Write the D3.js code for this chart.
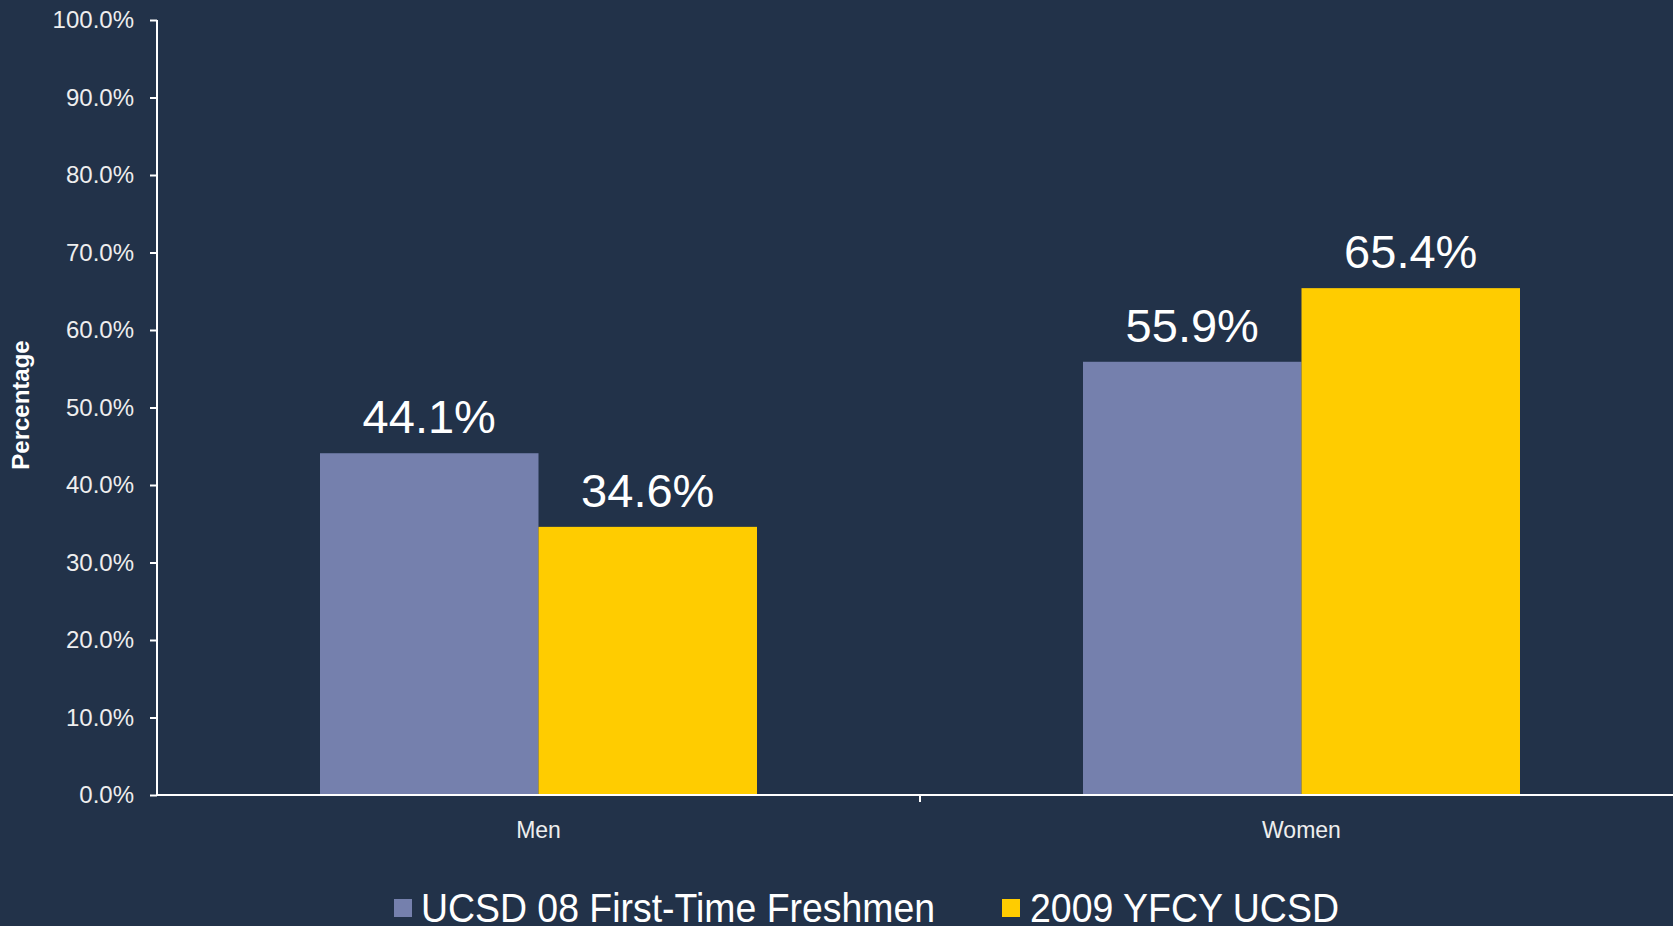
<!DOCTYPE html>
<html>
<head>
<meta charset="utf-8">
<script src="https://cdn.jsdelivr.net/npm/d3@7"></script>
<style>
  html, body { margin: 0; padding: 0; background: #223249; overflow: hidden; }
  svg { display: block; }
</style>
</head>
<body>
<svg id="chart" width="1673" height="926"></svg>
<script>
const categories = ["Men", "Women"];
const seriesNames = ["UCSD 08 First-Time Freshmen", "2009 YFCY UCSD"];
const ucsd08 = [44.1, 55.9];
const yfcy2009 = [34.6, 65.4];
const seriesColors = ["#7580ad", "#ffcc00"];
const yTicks = [0, 10, 20, 30, 40, 50, 60, 70, 80, 90, 100];

const seriesValues = [ucsd08, yfcy2009];
const svg = d3.select("#chart");
const W = 1673, H = 926;
const font = "'Liberation Sans', Arial, sans-serif";

svg.append("rect").attr("width", W).attr("height", H).attr("fill", "#223249");

const x0 = d3.scaleBand().domain(categories).range([157, 1683]).paddingInner(0).paddingOuter(0);
const x1 = d3.scaleBand().domain(seriesNames).range([163, x0.bandwidth() - 163]).padding(0);
const y = d3.scaleLinear().domain([0, 100]).range([795, 20]);

// bars
categories.forEach((cat, ci) => {
  seriesNames.forEach((s, si) => {
    const v = seriesValues[si][ci];
    const bx = x0(cat) + x1(s);
    svg.append("rect")
      .attr("x", bx).attr("y", y(v))
      .attr("width", x1.bandwidth()).attr("height", y(0) - y(v))
      .attr("fill", seriesColors[si]);
    svg.append("text")
      .attr("x", bx + x1.bandwidth() / 2)
      .attr("y", y(v) - 20)
      .attr("text-anchor", "middle")
      .attr("font-family", font)
      .attr("font-size", 47)
      .attr("fill", "#ffffff")
      .text(v.toFixed(1) + "%");
  });
});

// y axis
const yAxis = d3.axisLeft(y).tickValues(yTicks).tickSize(7).tickPadding(16)
  .tickFormat(d => d.toFixed(1) + "%");
const gy = svg.append("g").attr("transform", "translate(157,0)").call(yAxis);
gy.select(".domain").attr("stroke", "#ffffff").attr("stroke-width", 2).attr("d", "M0,20V795");
gy.selectAll(".tick line").attr("stroke", "#ffffff").attr("stroke-width", 2);
gy.selectAll(".tick text").attr("fill", "#eeeeee").attr("font-family", font).attr("font-size", 24);

// x axis
const xAxis = d3.axisBottom(x0).tickSize(0).tickPadding(0).tickFormat("");
const gx = svg.append("g").attr("transform", "translate(0,795)").call(xAxis);
gx.select(".domain").attr("stroke", "#ffffff").attr("stroke-width", 2).attr("d", "M157,0H1673");
gx.selectAll(".tick").remove();
// boundary tick between categories
gx.append("line").attr("x1", x0("Women")).attr("x2", x0("Women")).attr("y1", 0).attr("y2", 7)
  .attr("stroke", "#ffffff").attr("stroke-width", 2);
categories.forEach(cat => {
  gx.append("text")
    .attr("x", x0(cat) + x0.bandwidth() / 2)
    .attr("y", 43)
    .attr("text-anchor", "middle")
    .attr("font-family", font)
    .attr("font-size", 23)
    .attr("fill", "#eeeeee")
    .text(cat);
});

// y label
svg.append("text")
  .attr("transform", "translate(29,405) rotate(-90)")
  .attr("text-anchor", "middle")
  .attr("font-family", font)
  .attr("font-size", 24)
  .attr("font-weight", "bold")
  .attr("fill", "#ffffff")
  .text("Percentage");

// legend
const legendItems = [
  { name: seriesNames[0], color: seriesColors[0], sx: 394, tx: 421, tw: 514 },
  { name: seriesNames[1], color: seriesColors[1], sx: 1002, tx: 1030, tw: 309 }
];
legendItems.forEach(it => {
  svg.append("rect").attr("x", it.sx).attr("y", 899).attr("width", 18).attr("height", 18).attr("fill", it.color);
  svg.append("text")
    .attr("x", it.tx).attr("y", 922)
    .attr("font-family", font)
    .attr("font-size", 40)
    .attr("fill", "#ffffff")
    .attr("textLength", it.tw)
    .attr("lengthAdjust", "spacingAndGlyphs")
    .text(it.name);
});
</script>
</body>
</html>
